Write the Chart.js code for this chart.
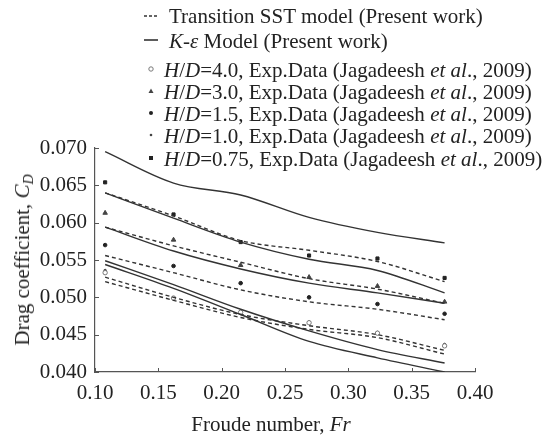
<!DOCTYPE html>
<html>
<head>
<meta charset="utf-8">
<script src="https://cdn.jsdelivr.net/npm/chart.js@4/dist/chart.umd.min.js"></script>
<style>
html,body{margin:0;padding:0;background:#fff;}
#wrap{position:relative;width:555px;height:437px;overflow:hidden;}
#c{position:absolute;left:0;top:0;}
.t{position:absolute;font-family:"Liberation Serif","Times New Roman",serif;font-size:21px;color:#222;white-space:nowrap;line-height:22px;height:22px;}
.mk{position:absolute;}
sub{font-size:14px;vertical-align:-4px;line-height:0;}
</style>
</head>
<body>
<div id="wrap">
<canvas id="c" width="555" height="437"></canvas>

<svg class="mk" style="left:143px;top:6px" width="16" height="20"><line x1="1" y1="10" x2="15" y2="10" stroke="#333" stroke-width="1.6" stroke-dasharray="3,2"/></svg>
<div class="t" style="left:169px;top:5px">Transition SST model (Present work)</div>

<svg class="mk" style="left:143px;top:30px" width="16" height="20"><line x1="1" y1="10" x2="15" y2="10" stroke="#333" stroke-width="1.6"/></svg>
<div class="t" style="left:169px;top:30px"><i>K</i>-<i>ε</i> Model (Present work)</div>

<svg class="mk" style="left:145px;top:59px" width="12" height="20"><circle cx="6" cy="10" r="2.2" fill="#fff" stroke="#777" stroke-width="1"/></svg>
<div class="t" style="left:164px;top:59px"><i>H</i>/<i>D</i>=4.0, Exp.Data (Jagadeesh <i>et al</i>., 2009)</div>

<svg class="mk" style="left:145px;top:81px" width="12" height="20"><polygon points="6,7.5 8.5,12 3.5,12" fill="#444"/></svg>
<div class="t" style="left:164px;top:81px"><i>H</i>/<i>D</i>=3.0, Exp.Data (Jagadeesh <i>et al</i>., 2009)</div>

<svg class="mk" style="left:145px;top:103px" width="12" height="20"><circle cx="6" cy="10" r="2" fill="#222"/></svg>
<div class="t" style="left:164px;top:103px"><i>H</i>/<i>D</i>=1.5, Exp.Data (Jagadeesh <i>et al</i>., 2009)</div>

<svg class="mk" style="left:145px;top:125px" width="12" height="20"><circle cx="6" cy="10" r="1.3" fill="#444"/></svg>
<div class="t" style="left:164px;top:125px"><i>H</i>/<i>D</i>=1.0, Exp.Data (Jagadeesh <i>et al</i>., 2009)</div>

<svg class="mk" style="left:145px;top:148px" width="12" height="20"><rect x="4" y="8" width="4" height="4" fill="#222"/></svg>
<div class="t" style="left:164px;top:148px"><i>H</i>/<i>D</i>=0.75, Exp.Data (Jagadeesh <i>et al</i>., 2009)</div>

<div class="t" style="left:271px;top:413px;transform:translateX(-50%)">Froude number, <i>Fr</i></div>
<div class="t" style="left:22px;top:260px;transform:translate(-50%,-50%) rotate(-90deg)">Drag coefficient, <i>C</i><sub><i>D</i></sub></div>
</div>

<script>
// ---- data ----
const froude = [0.108, 0.162, 0.215, 0.269, 0.323, 0.376];

// Transition SST model (dashed curves)
const sstHD075 = [0.0640, 0.0609, 0.0576, 0.0563, 0.0548, 0.0521];
const sstHD10  = [0.0594, 0.0569, 0.0547, 0.0525, 0.0511, 0.0492];
const sstHD15  = [0.0556, 0.0533, 0.0510, 0.0494, 0.0484, 0.0470];
const sstHD30  = [0.0527, 0.0500, 0.0477, 0.0462, 0.0450, 0.0429];
const sstHD40  = [0.0521, 0.0496, 0.0473, 0.0457, 0.0446, 0.0424];

// K-epsilon model (solid curves)
const keHD075 = [0.0695, 0.0653, 0.0637, 0.0607, 0.0587, 0.0573];
const keHD10  = [0.0640, 0.0606, 0.0574, 0.0551, 0.0536, 0.0506];
const keHD15  = [0.0594, 0.0562, 0.0538, 0.0519, 0.0506, 0.0492];
const keHD30  = [0.0549, 0.0517, 0.0484, 0.0455, 0.0430, 0.0412];
const keHD40  = [0.0544, 0.0512, 0.0477, 0.0441, 0.0419, 0.0400];

// Experimental data (Jagadeesh et al., 2009)
const expHD40  = [0.0533, 0.0499, 0.0480, 0.0466, 0.0452, 0.0435];
const expHD30  = [0.0613, 0.0577, 0.0543, 0.0527, 0.0515, 0.0494];
const expHD15  = [0.0570, 0.0542, 0.0519, 0.0500, 0.0491, 0.0478];
const expHD10  = [0.0536, 0.0498, 0.0481, 0.0467, 0.0453, 0.0437];
const expHD075 = [0.0654, 0.0611, 0.0574, 0.0556, 0.0552, 0.0526];

const xTicks = [0.10, 0.15, 0.20, 0.25, 0.30, 0.35, 0.40];
const yTicks = [0.040, 0.045, 0.050, 0.055, 0.060, 0.065, 0.070];

// ---- build datasets ----
const pts = arr => arr.map((v, i) => ({x: froude[i], y: v}));
const lineDs = (arr, dashed) => ({
  type: 'line', data: pts(arr), borderColor: '#333', borderWidth: 1.4,
  borderDash: dashed ? [4, 3] : [], pointRadius: 0, fill: false,
  cubicInterpolationMode: 'monotone'
});
const scatDs = (arr, style, r, fillC, strokeC) => ({
  type: 'scatter', data: pts(arr), pointStyle: style, pointRadius: r,
  backgroundColor: fillC, borderColor: strokeC, borderWidth: 1, showLine: false
});

const datasets = [
  lineDs(sstHD075, true), lineDs(sstHD10, true), lineDs(sstHD15, true),
  lineDs(sstHD30, true), lineDs(sstHD40, true),
  lineDs(keHD075, false), lineDs(keHD10, false), lineDs(keHD15, false),
  lineDs(keHD30, false), lineDs(keHD40, false),
  scatDs(expHD40, 'circle', 2.2, '#fff', '#777'),
  scatDs(expHD30, 'triangle', 2.6, '#444', '#444'),
  scatDs(expHD15, 'circle', 1.8, '#222', '#222'),
  scatDs(expHD10, 'circle', 1.2, '#444', '#444'),
  scatDs(expHD075, 'rect', 2.2, '#222', '#222')
];

const innerTicks = {
  id: 'innerTicks',
  afterDraw(chart) {
    const {ctx, scales: {x, y}} = chart;
    ctx.save();
    ctx.strokeStyle = '#555';
    ctx.lineWidth = 1;
    xTicks.forEach(v => {
      const px = Math.round(x.getPixelForValue(v)) + 0.5;
      ctx.beginPath(); ctx.moveTo(px, y.bottom); ctx.lineTo(px, y.bottom - 4); ctx.stroke();
    });
    yTicks.forEach(v => {
      const py = Math.round(y.getPixelForValue(v)) + 0.5;
      ctx.beginPath(); ctx.moveTo(x.left, py); ctx.lineTo(x.left + 4, py); ctx.stroke();
    });
    ctx.restore();
  }
};

const tickFont = {family: '"Liberation Serif", "Times New Roman", serif', size: 21};

new Chart(document.getElementById('c'), {
  data: {datasets},
  options: {
    responsive: false, animation: false, devicePixelRatio: 1,
    layout: {padding: {top: 148, right: 80, bottom: 25, left: 0}},
    plugins: {legend: {display: false}, tooltip: {enabled: false}},
    scales: {
      x: {
        type: 'linear', min: 0.10, max: 0.40,
        afterBuildTicks: s => { s.ticks = xTicks.map(v => ({value: v})); },
        afterFit: s => { s.height = 40; },
        grid: {display: false, drawTicks: false},
        border: {display: true, color: '#555', width: 1.2},
        ticks: {font: tickFont, color: '#222', padding: 9, maxRotation: 0,
                callback: v => v.toFixed(2)}
      },
      y: {
        type: 'linear', min: 0.040, max: 0.070,
        afterBuildTicks: s => { s.ticks = yTicks.map(v => ({value: v})); },
        afterFit: s => { s.width = 95; },
        grid: {display: false, drawTicks: false},
        border: {display: true, color: '#555', width: 1.2},
        ticks: {font: tickFont, color: '#222', padding: 8,
                callback: v => v.toFixed(3)}
      }
    }
  },
  plugins: [innerTicks]
});
</script>
</body>
</html>
